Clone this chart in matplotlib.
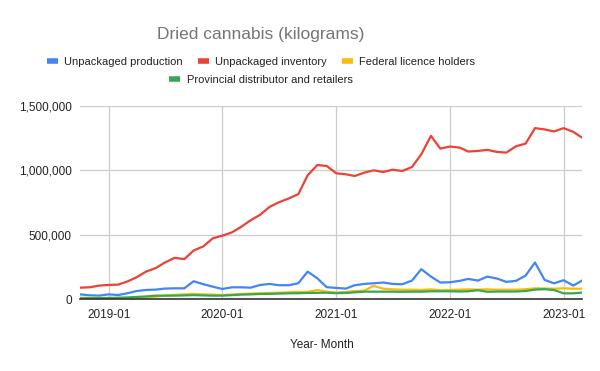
import matplotlib
matplotlib.use("Agg")
import matplotlib.pyplot as plt
import pandas as pd
from matplotlib.lines import Line2D
from matplotlib.ticker import FuncFormatter

plt.rcParams['font.family'] = ['Liberation Sans', 'DejaVu Sans']

months = pd.date_range("2018-10-01", "2023-03-01", freq="MS")

unpackaged_production = [
    36000, 29000, 26000, 36000, 31000, 44000, 62000, 70000, 73000, 81000, 83000, 83000,
    138000, 115000, 96000, 78000, 91000, 91000, 88000, 109000, 117000, 107000, 107000, 122000,
    213000, 161000, 92000, 86000, 81000, 107000, 117000, 122000, 128000, 117000, 115000, 143000,
    232000, 174000, 128000, 130000, 141000, 156000, 143000, 174000, 159000, 133000, 141000, 182000,
    284000, 148000, 122000, 146000, 104000, 143000]

unpackaged_inventory = [
    88000, 91000, 104000, 109000, 112000, 135000, 169000, 213000, 240000, 284000, 320000, 310000,
    377000, 409000, 471000, 492000, 518000, 560000, 612000, 654000, 716000, 752000, 781000, 815000,
    961000, 1041000, 1034000, 977000, 969000, 956000, 982000, 1000000, 987000, 1005000, 995000, 1026000,
    1125000, 1268000, 1169000, 1185000, 1177000, 1146000, 1151000, 1159000, 1143000, 1138000, 1187000, 1208000,
    1328000, 1318000, 1302000, 1328000, 1299000, 1255000]

federal_licence_holders = [
    10000, 10000, 8000, 8000, 6000, 6000, 8000, 12000, 18000, 26000, 32000, 36000,
    39000, 36000, 34000, 31000, 35000, 39000, 42000, 44000, 47000, 49000, 52000, 55000,
    55000, 70000, 57000, 50000, 55000, 62000, 65000, 102000, 80000, 75000, 72000, 72000,
    70000, 75000, 68000, 70000, 72000, 75000, 73000, 75000, 72000, 72000, 72000, 76000,
    83000, 82000, 80000, 83000, 80000, 80000]

provincial_distributor = [
    5000, 6000, 7000, 8000, 10000, 12000, 16000, 20000, 26000, 26000, 26000, 28000,
    30000, 28000, 26000, 26000, 30000, 34000, 36000, 39000, 40000, 42000, 44000, 45000,
    47000, 48000, 49000, 45000, 47000, 52000, 57000, 57000, 57000, 57000, 56000, 57000,
    57000, 60000, 60000, 60000, 58000, 60000, 68000, 56000, 58000, 58000, 58000, 62000,
    73000, 76000, 70000, 44000, 44000, 50000]

series_names = ["Unpackaged production", "Unpackaged inventory",
                "Federal licence holders", "Provincial distributor and retailers"]
series_values = [unpackaged_production, unpackaged_inventory,
                 federal_licence_holders, provincial_distributor]
colors = ["#4285F4", "#EA4335", "#FBBC04", "#34A853"]

y_ticks = [0, 500000, 1000000, 1500000]
x_tick_labels = ["2019-01", "2020-01", "2021-01", "2022-01", "2023-01"]

fig = plt.figure(figsize=(6.0, 3.71), dpi=100)
ax = fig.add_axes([80/600, 1-299/371, (582-80)/600, (299-106)/371])

for name, vals, c in zip(series_names, series_values, colors):
    ax.plot(months, vals, color=c, lw=1.6, solid_joinstyle='round', label=name)

ax.set_xlim(months[0], months[-1])
ax.set_ylim(0, 1500000)
ax.set_yticks(y_ticks)
ax.yaxis.set_major_formatter(FuncFormatter(lambda v, p: f"{int(v):,}"))
xt = [pd.Timestamp(s + "-01") for s in x_tick_labels]
ax.set_xticks(xt)
ax.set_xticklabels(x_tick_labels)

ax.grid(True, color="#cccccc", lw=0.9)
ax.set_axisbelow(True)
for s in ["top", "right", "left"]:
    ax.spines[s].set_visible(False)
ax.spines["bottom"].set_color("#333333")
ax.spines["bottom"].set_linewidth(1.2)
ax.tick_params(axis="both", length=0, labelsize=8.5, colors="#222222")
ax.tick_params(axis="x", pad=7)
ax.tick_params(axis="y", pad=6)

fig.text(0.435, 1-35/371, "Dried cannabis (kilograms)", ha="center", va="center",
         fontsize=12.5, color="#757575")

handles = [Line2D([0], [0], color=c, lw=4, solid_capstyle='butt') for c in colors]
leg_kw = dict(frameon=False, fontsize=8.0, handlelength=1.0, handletextpad=0.6,
              columnspacing=1.3, borderaxespad=0, borderpad=0, labelcolor="#222222")
fig.legend(handles[:3], series_names[:3], loc="center", bbox_to_anchor=(0.435, 1-62/371),
           ncol=3, **leg_kw)
fig.legend(handles[3:], series_names[3:], loc="center", bbox_to_anchor=(0.435, 1-80/371),
           ncol=1, **leg_kw)

fig.text(322/600, 1-345/371, "Year- Month", ha="center", va="center", fontsize=8.5, color="#222222")

fig.savefig("out.png", dpi=100, facecolor="white")
